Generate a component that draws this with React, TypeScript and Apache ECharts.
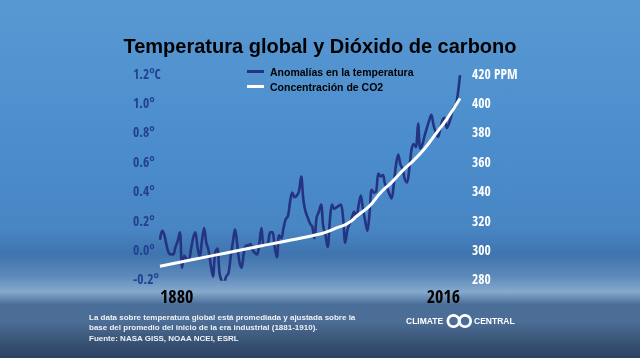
import React, { useEffect, useRef } from "react";
import * as echarts from "echarts";

const firstYear = 1880;
const lastYear = 2016;
// Temperature anomalies (°C), one value per year 1880..2016
const tempAnomalies = [
  0.07, 0.13, 0.10, 0.03, -0.02, -0.03, -0.03, 0.02, 0.06, 0.12,
  -0.12, -0.04, -0.06, -0.07, 0.00, 0.08, 0.12, 0.02, -0.05, 0.06,
  0.15, 0.05, 0.00, -0.10, -0.18, -0.02, 0.01, -0.16, -0.21, -0.22,
  -0.18, -0.16, -0.05, 0.05, 0.14, 0.04, -0.08, -0.12, -0.02, 0.03,
  0.03, 0.04, 0.00, -0.02, -0.03, 0.04, 0.15, 0.03, 0.03, 0.05,
  0.12, 0.12, 0.02, -0.05, 0.10, 0.08, 0.15, 0.21, 0.23, 0.33,
  0.39, 0.36, 0.37, 0.40, 0.50, 0.34, 0.26, 0.22, 0.18, 0.16,
  0.08, 0.22, 0.26, 0.31, 0.16, 0.10, 0.02, 0.20, 0.31, 0.28,
  0.29, 0.30, 0.31, 0.22, 0.05, 0.14, 0.18, 0.22, 0.26, 0.22,
  0.30, 0.37, 0.28, 0.20, 0.13, 0.25, 0.41, 0.39, 0.40, 0.52,
  0.50, 0.51, 0.45, 0.42, 0.38, 0.35, 0.45, 0.58, 0.65, 0.58,
  0.55, 0.48, 0.46, 0.55, 0.68, 0.72, 0.70, 0.86, 0.69, 0.72,
  0.78, 0.83, 0.88, 0.92, 0.85, 0.80, 0.77, 0.82, 0.88, 0.90,
  0.83, 0.86, 0.91, 0.97, 0.98, 1.06, 1.19,
];
const tempYears = tempAnomalies.map((_, i) => firstYear + i);

// CO2 concentration (ppm)
const co2Years = [1880, 1890, 1900, 1910, 1920, 1930, 1940, 1950, 1955, 1960, 1965, 1970, 1975, 1980, 1985, 1990, 1995, 2000, 2005, 2010, 2016];
const co2Values = [289, 292, 295, 298, 301, 304, 307, 310, 312, 315, 318, 324, 330, 339, 346, 354, 361, 369, 379, 389, 403];

const xTickLabels = [1880, 2016];
const seriesNames = ["Anomalías en la temperatura", "Concentración de CO2"];
const titleText = "Temperatura global y Dióxido de carbono";
const footerLines = [
  "La data sobre temperatura global está promediada y ajustada sobre la",
  "base del promedio del inicio de la era industrial (1881-1910).",
  "Fuente: NASA GISS, NOAA NCEI, ESRL",
];

const narrow = "'Open Sans Condensed', 'DejaVu Sans Condensed', sans-serif";
const sans = "'Liberation Sans', Arial, sans-serif";

export default function App() {
  const ref = useRef<HTMLDivElement>(null);
  useEffect(() => {
    if (!ref.current) return;
    const chart = echarts.init(ref.current, null, { renderer: "svg" });
    const bg = new echarts.graphic.LinearGradient(0, 0, 0, 1, [
      { offset: 0, color: "#5899d3" },
      { offset: 0.42, color: "#4b8dcc" },
      { offset: 0.64, color: "#4885c3" },
      { offset: 0.71, color: "#3f74ae" },
      { offset: 0.77, color: "#5b89ba" },
      { offset: 0.815, color: "#86a9cd" },
      { offset: 0.85, color: "#4a6e98" },
      { offset: 0.9, color: "#4c6d95" },
      { offset: 0.95, color: "#3a5577" },
      { offset: 1, color: "#2c4262" },
    ]);
    chart.setOption({
      animation: false,
      title: {
        text: titleText,
        left: "center",
        top: 31,
        textStyle: { fontFamily: sans, fontWeight: "bold", fontSize: 20, color: "#000" },
      },
      legend: {
        orient: "vertical",
        left: 242,
        top: 61,
        itemGap: 4,
        itemWidth: 17,
        itemHeight: 3,
        icon: "rect",
        data: seriesNames,
        textStyle: { fontFamily: sans, fontWeight: "bold", fontSize: 10.5, color: "#000", padding: [0, 0, 0, 1] },
      },
      grid: { left: 160, right: 180, top: 73.6, bottom: 78.6 },
      xAxis: {
        type: "value",
        min: firstYear,
        max: lastYear,
        axisLine: { show: false },
        axisTick: { show: false },
        splitLine: { show: false },
        axisLabel: {
          customValues: xTickLabels,
          alignMinLabel: "left",
          alignMaxLabel: "right",
          margin: 8,
          fontFamily: narrow,
          fontWeight: "bold",
          fontSize: 18,
          color: "#000",
          formatter: (v: number) => String(v),
        },
      },
      yAxis: [
        {
          type: "value",
          min: -0.2,
          max: 1.2,
          interval: 0.2,
          axisLine: { show: false },
          axisTick: { show: false },
          splitLine: { show: false },
          axisLabel: {
            align: "left",
            margin: 27,
            fontFamily: narrow,
            fontWeight: "bold",
            fontSize: 13.5,
            color: "#233f92",
            formatter: (v: number) => {
              const s = (Math.round(v * 10) / 10).toFixed(1);
              return Math.abs(v - 1.2) < 1e-6 ? s + "°C" : s + "°";
            },
          },
        },
        {
          type: "value",
          min: 280,
          max: 420,
          interval: 20,
          position: "right",
          axisLine: { show: false },
          axisTick: { show: false },
          splitLine: { show: false },
          axisLabel: {
            margin: 12,
            fontFamily: narrow,
            fontWeight: "bold",
            fontSize: 13.5,
            color: "#ffffff",
            formatter: (v: number) => (v === 420 ? "420 PPM" : String(v)),
          },
        },
      ],
      series: [
        {
          name: seriesNames[0],
          type: "line",
          yAxisIndex: 0,
          data: tempYears.map((y, i) => [y, tempAnomalies[i]]),
          showSymbol: false,
          smooth: 0.35,
          lineStyle: { color: "#243382", width: 2.6 },
          itemStyle: { color: "#243382" },
          z: 3,
        },
        {
          name: seriesNames[1],
          type: "line",
          yAxisIndex: 1,
          data: co2Years.map((y, i) => [y, co2Values[i]]),
          showSymbol: false,
          smooth: true,
          lineStyle: { color: "#ffffff", width: 3 },
          itemStyle: { color: "#ffffff" },
          z: 4,
        },
      ],
      graphic: [
        {
          type: "rect",
          z: -10,
          silent: true,
          shape: { x: 0, y: 0, width: 640, height: 358 },
          style: { fill: bg },
        },
        ...footerLines.map((t, i) => ({
          type: "text",
          left: 89,
          top: 313 + i * 10.5,
          style: { text: t, fill: "#eef2f7", font: `bold 8px ${sans}` },
        })),
        {
          type: "group",
          left: 406,
          top: 314,
          children: [
            { type: "text", x: 0, y: 4, style: { text: "CLIMATE", fill: "#ffffff", font: `bold 8.5px ${sans}` } },
            { type: "ring", shape: { cx: 47.5, cy: 8.5, r: 7, r0: 4.3 }, style: { fill: "#ffffff" } },
            { type: "ring", shape: { cx: 59, cy: 8.5, r: 7, r0: 4.3 }, style: { fill: "#ffffff" } },
            { type: "circle", shape: { cx: 53.25, cy: 8.5, r: 1.4 }, style: { fill: "#ffffff" } },
            { type: "text", x: 68, y: 4, style: { text: "CENTRAL", fill: "#ffffff", font: `bold 8.5px ${sans}` } },
          ],
        },
      ],
    });
    return () => chart.dispose();
  }, []);
  return (
    <div
      ref={ref}
      style={{ position: "fixed", left: 0, top: 0, width: 640, height: 358 }}
    />
  );
}
